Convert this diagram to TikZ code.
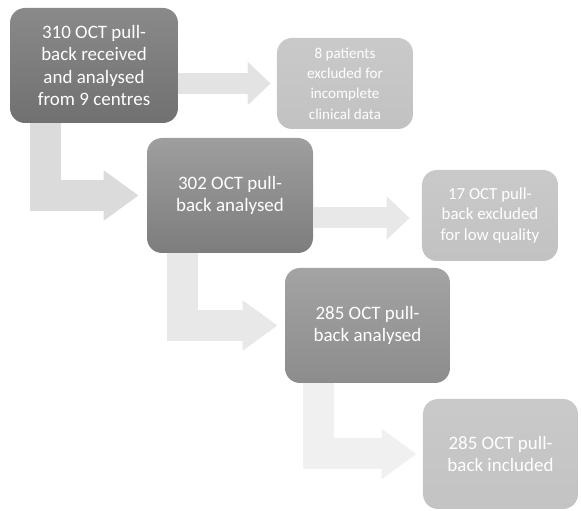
\documentclass[tikz,border=0pt]{standalone}
\usepackage{fontspec}
\setmainfont{Carlito}
\usetikzlibrary{arrows.meta}

\begin{document}
\begin{tikzpicture}[
		stagebox/.style 2 args={rounded corners=0.3cm, top color=#1, bottom color=#2, text=white, align=center, inner sep=0pt},
		bigtext/.style={font=\fontsize{10.8}{12.6}\selectfont},
		smalltext/.style={font=\fontsize{8.6}{11.6}\selectfont},
		midtext/.style={font=\fontsize{9.6}{11.6}\selectfont},
		flow/.style={line width=0.62cm, -{Triangle[width=0.96cm, length=0.7cm]}},
		exclude/.style={line width=0.42cm, -{Triangle[width=0.84cm, length=0.46cm]}}]
			\useasboundingbox (0,0) rectangle (11.62,-10.22);
			\definecolor{arrowA}{gray}{0.89}
			\definecolor{arrowB}{gray}{0.86}
			\definecolor{arrowC}{gray}{0.91}
			\definecolor{arrowD}{gray}{0.94}
			\definecolor{darkA}{gray}{0.54}
			\definecolor{darkB}{gray}{0.44}
			\definecolor{midA}{gray}{0.62}
			\definecolor{midB}{gray}{0.49}
			\definecolor{softA}{gray}{0.64}
			\definecolor{softB}{gray}{0.55}
			\definecolor{paleA}{gray}{0.79}
			\definecolor{paleB}{gray}{0.76}
			
			\node [stagebox={darkA}{darkB}, bigtext, minimum width=3.36cm, minimum height=2.30cm] (received) at (1.88,-1.31) {310 OCT pull-\\back received\\and analysed\\from 9 centres};
			\node [stagebox={paleA}{paleB}, smalltext, minimum width=2.72cm, minimum height=1.82cm] (patients) at (6.90,-1.67) {8 patients\\excluded for\\incomplete\\clinical data};
			\node [stagebox={midA}{midB}, bigtext, minimum width=3.32cm, minimum height=2.30cm] (analysedA) at (4.60,-3.91) {302 OCT pull-\\back analysed};
			\node [stagebox={paleA}{paleB}, midtext, minimum width=2.72cm, minimum height=1.82cm] (quality) at (9.80,-4.31) {17 OCT pull-\\back excluded\\for low quality};
			\node [stagebox={softA}{softB}, bigtext, minimum width=3.30cm, minimum height=2.30cm] (analysedB) at (7.35,-6.51) {285 OCT pull-\\back analysed};
			\node [stagebox={paleA}{gray!47}, bigtext, minimum width=3.10cm, minimum height=2.20cm] (included) at (10.01,-9.08) {285 OCT pull-\\back included};
			
			\draw [exclude, arrowA, shorten >=0.12cm] (received.east |- patients.west) -- (patients.west);
			\draw [flow, arrowB, shorten >=0.16cm] ([xshift=0.72cm]received.south west) |- (analysedA.west);
			\draw [exclude, arrowC, shorten >=0.24cm] ([yshift=-0.05cm]analysedA.east |- quality.west) -- ([yshift=-0.05cm]quality.west);
			\draw [flow, arrowC, shorten >=0.14cm] ([xshift=0.72cm]analysedA.south west) |- (analysedB.west);
			\draw [flow, arrowD, shorten >=0.12cm] ([xshift=0.68cm]analysedB.south west) |- (included.west);
		\end{tikzpicture}
\end{document}
